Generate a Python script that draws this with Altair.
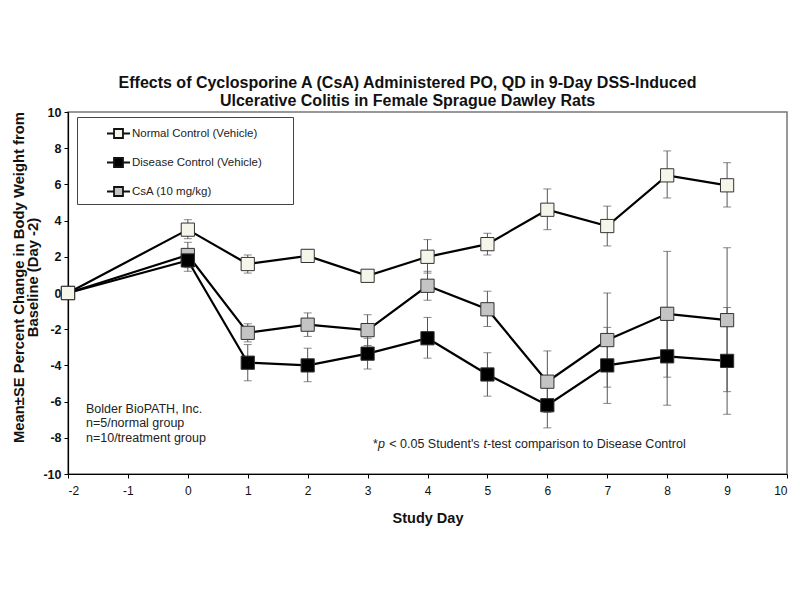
import altair as alt
import pandas as pd

# ---------------- data ----------------
days = [-2, 0, 1, 2, 3, 4, 5, 6, 7, 8, 9]
series_names = ["Normal Control (Vehicle)", "Disease Control (Vehicle)", "CsA (10 mg/kg)"]

normal_mean = [0, 3.5, 1.6, 2.05, 0.95, 2.0, 2.7, 4.6, 3.7, 6.5, 5.95]
normal_lo   = [0, 3.0, 1.1, 1.8, 0.8, 1.1, 2.1, 3.5, 2.6, 5.25, 4.75]
normal_hi   = [0, 4.05, 2.1, 2.4, 1.1, 2.95, 3.3, 5.75, 4.8, 7.85, 7.2]

disease_mean = [0, 1.8, -3.85, -4.0, -3.35, -2.5, -4.5, -6.2, -4.0, -3.5, -3.75]
disease_lo   = [0, 1.2, -4.85, -4.9, -4.2, -3.6, -5.7, -7.45, -6.1, -6.2, -6.7]
disease_hi   = [0, 2.4, -2.85, -3.05, -2.5, -1.35, -3.3, -4.95, -1.9, -0.8, -0.8]

csa_mean = [0, 2.1, -2.2, -1.75, -2.05, 0.4, -0.9, -4.9, -2.6, -1.15, -1.5]
csa_lo   = [0, 1.4, -2.7, -2.4, -2.9, -0.4, -1.85, -6.6, -5.2, -4.65, -5.45]
csa_hi   = [0, 2.8, -1.7, -1.1, -1.2, 1.2, 0.1, -3.2, 0.0, 2.3, 2.5]

fill_colors = ["#f5f5ea", "#000000", "#c4c4c4"]

x_ticks = list(range(-2, 11))
y_ticks = list(range(-10, 11, 2))

title_lines = [
    "Effects of Cyclosporine A (CsA) Administered PO, QD in 9-Day DSS-Induced",
    "Ulcerative Colitis in Female Sprague Dawley Rats",
]
y_title = ["Mean±SE Percent Change in Body Weight from", "Baseline (Day -2)"]
x_title = "Study Day"

note_lines = ["Bolder BioPATH, Inc.", "n=5/normal group", "n=10/treatment group"]
note_x = [-1.7, -1.7, -1.7]
note_y = [-6.4, -7.2, -8.0]

foot_x = 3.09
foot_y = -8.35

# ---------------- table ----------------
rows = []
for name, m, lo, hi in [
    (series_names[0], normal_mean, normal_lo, normal_hi),
    (series_names[1], disease_mean, disease_lo, disease_hi),
    (series_names[2], csa_mean, csa_lo, csa_hi),
]:
    for d, a, b, c in zip(days, m, lo, hi):
        rows.append({"series": name, "day": d, "mean": a, "lo": b, "hi": c,
                     "order": series_names.index(name)})
df = pd.DataFrame(rows)
err_df = df[df["day"] != -2]

FONT = "Liberation Sans"

xscale = alt.Scale(domain=[-2, 10], nice=False, zero=False)
yscale = alt.Scale(domain=[-10, 10], nice=False, zero=False)

x_axis = alt.Axis(values=x_ticks, title=x_title, grid=False,
                  labelExpr="'' + datum.value", labelOverlap=False, labelSeparation=0,
                  domainColor="#000", domainWidth=1.2, tickColor="#000",
                  tickSize=4, labelFontSize=12, labelFont=FONT, labelColor="#111",
                  labelPadding=7, titleFont=FONT, titleFontSize=14.5,
                  titleFontWeight="bold", titleColor="#111", titlePadding=15)
y_axis = alt.Axis(values=y_ticks, tickCount=11, title=y_title, grid=False,
                  labelExpr="'' + datum.value", labelOverlap=False, labelSeparation=0,
                  labelBound=False,
                  domainColor="#000", domainWidth=1.2, tickColor="#000",
                  tickSize=4, labelFontSize=12.5, labelFont=FONT, labelFontWeight="bold",
                  labelColor="#111", labelPadding=3, titleFont=FONT,
                  titleFontSize=14.8, titleFontWeight="bold", titleColor="#111",
                  titlePadding=2, titleLineHeight=14, titleY=165)

X = alt.X("day:Q", scale=xscale, axis=x_axis)
Y = alt.Y("mean:Q", scale=yscale, axis=y_axis)

base = alt.Chart(df)
ebase = alt.Chart(err_df)

lines = base.mark_line(color="#000", strokeWidth=2.2).encode(
    x=X, y=Y, detail="series:N", order="day:Q")

err_rule = ebase.mark_rule(color="#555", strokeWidth=1).encode(
    x=X, y=alt.Y("lo:Q", scale=yscale, axis=y_axis), y2="hi:Q")
cap_lo = ebase.mark_tick(color="#555", orient="horizontal", size=8, thickness=1).encode(
    x=X, y=alt.Y("lo:Q", scale=yscale, axis=y_axis))
cap_hi = ebase.mark_tick(color="#555", orient="horizontal", size=8, thickness=1).encode(
    x=X, y=alt.Y("hi:Q", scale=yscale, axis=y_axis))

legend_path = "M-1,0H-0.39M0.39,0H1M-0.39,-0.39H0.39V0.39H-0.39Z"
pad = "\u2800" * 3

markers = base.mark_point(shape="square", filled=True, size=175, opacity=1,
                          stroke="#333", strokeWidth=1).encode(
    x=X,
    y=Y,
    fill=alt.Fill("series:N",
                  scale=alt.Scale(domain=series_names, range=fill_colors),
                  legend=alt.Legend(title=None, orient="none", legendX=9, legendY=5,
                                    symbolType=legend_path, symbolSize=529,
                                    symbolStrokeColor="#111", symbolStrokeWidth=1.8,
                                    symbolOffset=25, labelOffset=1, labelLimit=400,
                                    labelExpr="datum.label + '" + pad + "'",
                                    labelFont=FONT, labelFontSize=11.5, labelColor="#222",
                                    rowPadding=8, padding=4, strokeColor="#444",
                                    fillColor="#ffffff", cornerRadius=0)),
    order=alt.Order("order:Q", sort="descending"),
)

notes_df = pd.DataFrame({"text": note_lines, "x": note_x, "y": note_y})
notes = alt.Chart(notes_df).mark_text(align="left", baseline="middle", font=FONT,
                                      fontSize=12.5, color="#222").encode(
    x=alt.X("x:Q", scale=xscale, axis=x_axis),
    y=alt.Y("y:Q", scale=yscale, axis=y_axis), text="text:N")

NB = "\u00a0"
foot_df = pd.DataFrame({"x": [foot_x], "y": [foot_y]})
fbase = alt.Chart(foot_df)
pieces = [("*", "normal", 0), ("p", "italic", 4.9),
          (NB + "<" + NB + "0.05 Student's" + NB, "normal", 16.3),
          ("t", "italic", 110.5), ("-test comparison to Disease Control", "normal", 114.0)]
foot_layers = []
for txt, style, off in pieces:
    foot_layers.append(fbase.mark_text(align="left", baseline="middle", font=FONT,
                                       fontSize=12.5, color="#222", fontStyle=style,
                                       dx=off, text=txt).encode(
        x=alt.X("x:Q", scale=xscale, axis=x_axis),
        y=alt.Y("y:Q", scale=yscale, axis=y_axis)))

chart = alt.layer(lines, err_rule, cap_lo, cap_hi, markers, notes, *foot_layers).properties(
    width=719, height=362,
    background="white",
    title=alt.TitleParams(text=title_lines, font=FONT, fontSize=16, fontWeight="bold",
                          color="#111", anchor="middle", offset=-3, dx=-20, lineHeight=18),
    padding={"left": 60, "top": 104, "right": 5, "bottom": 60},
    autosize="none",
).configure_view(stroke="#777", strokeWidth=1.5).configure_axis(
    labelOverlap=False, grid=False
)

chart.save("out.html", embed_options={"renderer": "svg", "actions": False})
